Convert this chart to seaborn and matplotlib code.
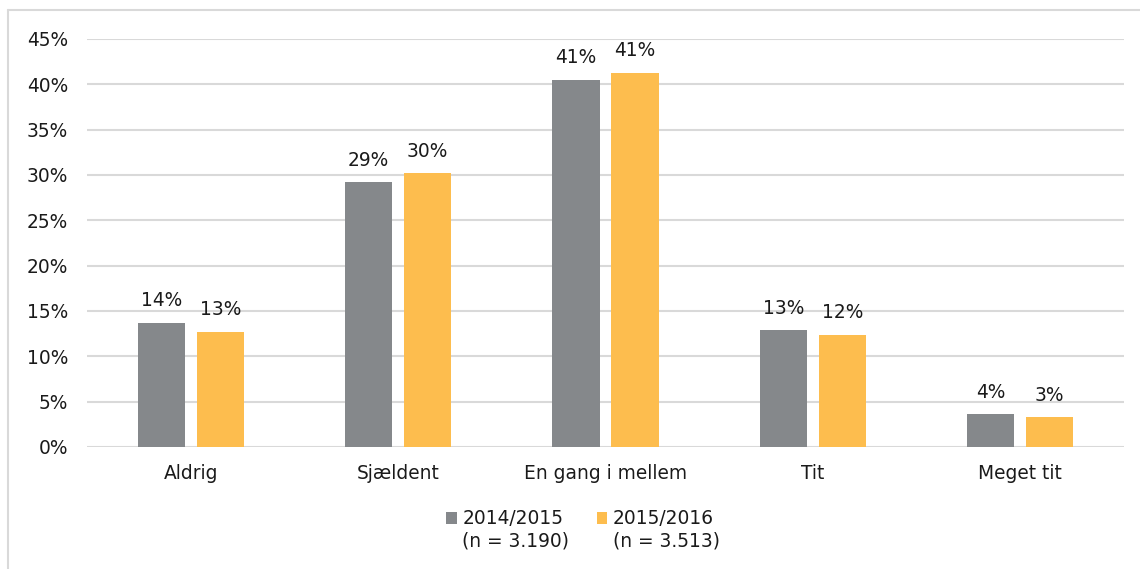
import matplotlib
matplotlib.use("Agg")
import matplotlib.pyplot as plt
import seaborn as sns
import pandas as pd
from matplotlib.patches import Patch
from matplotlib.lines import Line2D

categories = ["Aldrig", "Sjældent", "En gang i mellem", "Tit", "Meget tit"]
series_names = ["2014/2015", "2015/2016"]
series_n = ["(n = 3.190)", "(n = 3.513)"]
values_2014 = [13.7, 29.2, 40.5, 12.9, 3.6]
values_2015 = [12.7, 30.2, 41.3, 12.4, 3.3]
labels_2014 = ["14%", "29%", "41%", "13%", "4%"]
labels_2015 = ["13%", "30%", "41%", "12%", "3%"]
yticks = [0, 5, 10, 15, 20, 25, 30, 35, 40, 45]
colors = ["#85888B", "#FDBD4E"]

df = pd.DataFrame({
    "category": categories * 2,
    "series": [series_names[0]] * 5 + [series_names[1]] * 5,
    "value": values_2014 + values_2015,
})

sns.set_theme(style="white")
plt.rcParams["font.family"] = ["DejaVu Sans"]
FS = 13.4
TC = "#1a1a1a"

fig = plt.figure(figsize=(11.4, 5.69), dpi=100)
ax = fig.add_axes([87 / 1140, 1 - 447 / 569, (1124 - 87) / 1140, (447 - 39) / 569])

sns.barplot(data=df, x="category", y="value", hue="series", palette=colors,
            order=categories, hue_order=series_names, width=0.569, gap=0.203,
            saturation=1, linewidth=0, ax=ax, legend=False)

for cont, labs in zip(ax.containers, [labels_2014, labels_2015]):
    ax.bar_label(cont, labels=labs, padding=9, fontsize=FS, color=TC)

ax.set_ylim(0, 45)
ax.set_xlim(-0.5, 4.5)
ax.set_yticks(yticks)
ax.set_yticklabels([f"{t}%" for t in yticks], fontsize=FS, color=TC)
ax.set_xticks(range(len(categories)))
ax.set_xticklabels(categories, fontsize=FS, color=TC)
ax.set_xlabel("")
ax.set_ylabel("")
ax.tick_params(axis="y", length=0, pad=13.5)
ax.tick_params(axis="x", length=0, pad=12)
ax.yaxis.grid(True, color="#D9D9D9", linewidth=1.5)
ax.set_axisbelow(True)
for s in ax.spines.values():
    s.set_visible(False)

# figure border (top & left visible)
fig.add_artist(Line2D([8 / 1140, 8 / 1140], [0, 1 - 10 / 569], transform=fig.transFigure,
                      color="#D9D9D9", linewidth=1.5))
fig.add_artist(Line2D([8 / 1140, 1], [1 - 10 / 569, 1 - 10 / 569], transform=fig.transFigure,
                      color="#D9D9D9", linewidth=1.5))

handles = [Patch(facecolor=c, edgecolor="none") for c in colors]
leg = fig.legend(handles, series_names, loc="center", bbox_to_anchor=(580 / 1140, 1 - 519 / 569),
                 ncol=2, frameon=False, fontsize=FS, handlelength=0.55, handleheight=0.55,
                 handletextpad=0.3, columnspacing=1.8, borderpad=0)
for t in leg.get_texts():
    t.set_color(TC)

fig.canvas.draw()
r = fig.canvas.get_renderer()
for t, n in zip(leg.get_texts(), series_n):
    bb = t.get_window_extent(r)
    x0, y0 = fig.transFigure.inverted().transform((bb.x0, bb.y0))
    fig.text(x0, y0 - 3 / 569, n, fontsize=FS, color=TC, ha="left", va="top")

fig.savefig("out.png", dpi=100)
